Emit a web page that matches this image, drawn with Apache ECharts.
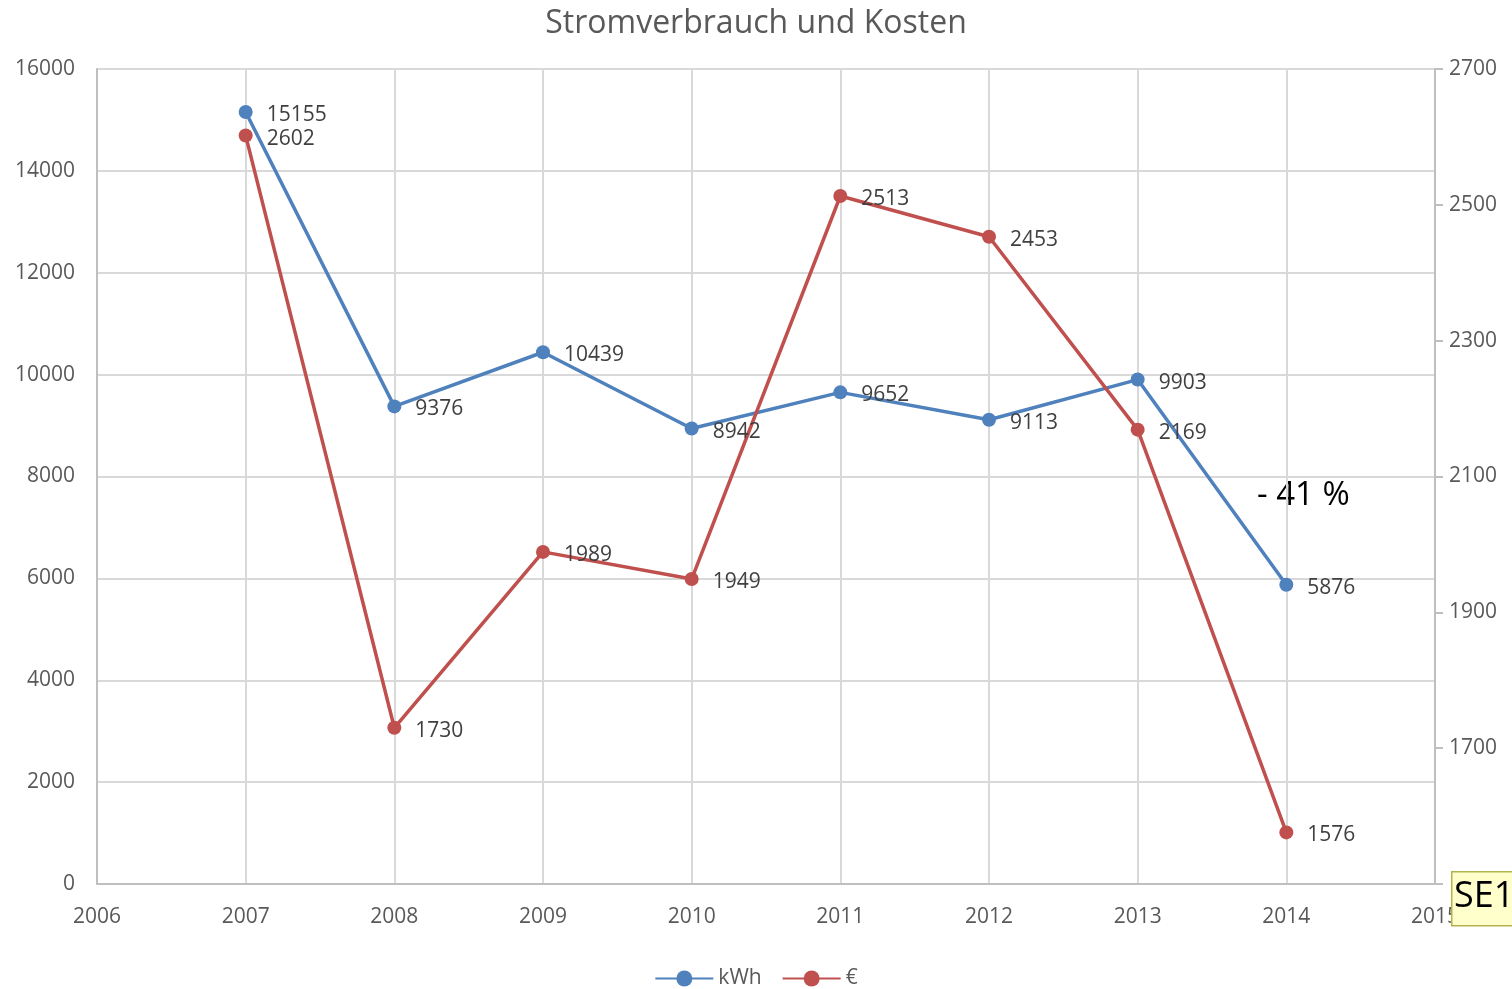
<!DOCTYPE html>
<html>
<head>
<meta charset="utf-8">
<script src="https://cdn.jsdelivr.net/npm/echarts@6/dist/echarts.min.js"></script>
<style>
  html, body { margin: 0; padding: 0; background: #fff; }
  #main { width: 1512px; height: 989px; }
</style>
</head>
<body>
<div id="main"></div>
<script>
// Jahre und Werte
var years = [2007, 2008, 2009, 2010, 2011, 2012, 2013, 2014];
var kwh = [15155, 9376, 10439, 8942, 9652, 9113, 9903, 5876];
var euro = [2602, 1730, 1989, 1949, 2513, 2453, 2169, 1576];

var font = "'Open Sans', 'Noto Sans', sans-serif";
var textColor = "#595959";

function pairs(vals) {
  return years.map(function (y, i) { return [y, vals[i]]; });
}
// keine Tausendertrennzeichen
function plain(v) { return String(v); }

var myChart = echarts.init(document.getElementById('main'));
var option = {
  animation: false,
  textStyle: { fontFamily: font },
  title: {
    text: 'Stromverbrauch und Kosten',
    left: 'center',
    top: 3,
    textStyle: { fontSize: 32, fontWeight: 'normal', color: textColor, fontFamily: font }
  },
  legend: {
    bottom: -5,
    left: 'center',
    itemWidth: 58,
    itemHeight: 20,
    itemGap: 20,
    textStyle: { fontSize: 21, color: textColor, fontFamily: font },
    data: ['kWh', '€']
  },
  grid: { left: 97, right: 77, top: 69, bottom: 105 },
  xAxis: {
    type: 'value',
    min: 2006,
    max: 2015,
    interval: 1,
    axisLine: { lineStyle: { color: '#bfbfbf', width: 2 } },
    axisTick: { show: false },
    axisLabel: { color: textColor, fontSize: 21, margin: 23, fontFamily: font, formatter: plain },
    splitLine: { show: true, lineStyle: { color: '#d9d9d9', width: 2 } }
  },
  yAxis: [{
    type: 'value',
    min: 0,
    max: 16000,
    interval: 2000,
    axisLine: { show: true, lineStyle: { color: '#bfbfbf', width: 2 } },
    axisTick: { show: false },
    axisLabel: { color: textColor, fontSize: 21, margin: 22, fontFamily: font, formatter: plain, padding: [3, 0, 0, 0] },
    splitLine: { lineStyle: { color: '#d9d9d9', width: 2 } }
  }, {
    type: 'value',
    min: 1500,
    max: 2700,
    interval: 200,
    position: 'right',
    axisLine: { show: true, lineStyle: { color: '#bfbfbf', width: 2 } },
    axisTick: { show: true, length: 8, lineStyle: { color: '#bfbfbf', width: 2 } },
    axisLabel: { color: textColor, fontSize: 21, margin: 14, fontFamily: font, formatter: plain, padding: [3, 0, 0, 0] },
    splitLine: { show: false }
  }],
  series: [{
    name: 'kWh',
    type: 'line',
    yAxisIndex: 0,
    data: pairs(kwh),
    color: '#4f81bd',
    lineStyle: { width: 3.5 },
    symbol: 'circle',
    symbolSize: 14,
    label: {
      show: true, position: 'right', distance: 14, offset: [0, 3],
      color: '#404040', fontSize: 21, fontFamily: font,
      formatter: function (p) { return p.value[1]; }
    }
  }, {
    name: '€',
    type: 'line',
    yAxisIndex: 1,
    data: pairs(euro),
    color: '#c0504d',
    lineStyle: { width: 3.5 },
    symbol: 'circle',
    symbolSize: 14,
    label: {
      show: true, position: 'right', distance: 14, offset: [0, 3],
      color: '#404040', fontSize: 21, fontFamily: font,
      formatter: function (p) { return p.value[1]; }
    }
  }],
  graphic: [{
    type: 'text',
    left: 1257,
    top: 479,
    style: { text: '- 41 %', fill: '#000', fontSize: 33, fontFamily: font }
  }, {
    type: 'rect',
    left: 1451,
    top: 871,
    z: 100,
    zlevel: 1,
    shape: { x: 0, y: 0, width: 66, height: 54 },
    style: { fill: '#ffffcc', stroke: '#b3b34d', lineWidth: 1.5 }
  }, {
    type: 'text',
    left: 1454,
    top: 879,
    z: 101,
    zlevel: 1,
    style: { text: 'SE1', fill: '#000', fontSize: 36, fontFamily: font }
  }]
};

myChart.setOption(option);
</script>
</body>
</html>
